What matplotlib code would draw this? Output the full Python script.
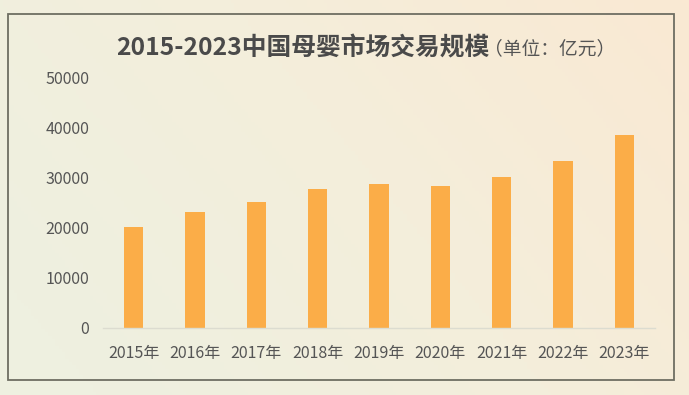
import numpy as np
import matplotlib
matplotlib.use("Agg")
import matplotlib.pyplot as plt
from matplotlib.colors import LinearSegmentedColormap
from matplotlib.patches import Rectangle

plt.rcParams['font.family'] = ['Noto Sans CJK SC', 'DejaVu Sans']

years = ["2015年", "2016年", "2017年", "2018年", "2019年", "2020年", "2021年", "2022年", "2023年"]
values = [20100, 23100, 25100, 27700, 28600, 28300, 30000, 33300, 38400]
yticks = [0, 10000, 20000, 30000, 40000, 50000]

W, H = 689, 395
fig = plt.figure(figsize=(W / 100, H / 100), dpi=100)

# background gradient
bg = fig.add_axes([0, 0, 1, 1])
bg.set_axis_off()
xx, yy = np.meshgrid(np.linspace(0, 1, 200), np.linspace(0, 1, 120))
t = np.clip(0.75 * xx + 0.35 * (1 - yy) - 0.1, 0, 1)
cmap = LinearSegmentedColormap.from_list("bg", ["#EEF0E0", "#F4EEDB", "#FAE9D3"])
bg.imshow(t, cmap=cmap, aspect="auto", extent=[0, 1, 0, 1], origin="upper", vmin=0, vmax=1)
bg.set_xlim(0, 1)
bg.set_ylim(0, 1)

# frame
fx0, fy0, fx1, fy1 = 8, 14, 674, 380
fig.add_artist(Rectangle((fx0 / W, 1 - fy1 / H), (fx1 - fx0) / W, (fy1 - fy0) / H,
                         transform=fig.transFigure, fill=False, edgecolor="#6E6E62", linewidth=1.3))

# main axes: x from 103 to 655 px, y0 at 328, 50000 at 77
ax_l, ax_r = 103, 655
y0px, y50px = 328, 77
ax = fig.add_axes([ax_l / W, 1 - y0px / H, (ax_r - ax_l) / W, (y0px - y50px) / H])
ax.patch.set_alpha(0)
x = np.arange(len(years))
ax.bar(x, values, width=0.32, color="#FBAD48", zorder=2)
ax.set_xlim(-0.5, len(years) - 0.5)
ax.set_ylim(0, 50000)
ax.set_yticks(yticks)
ax.set_yticklabels([str(v) for v in yticks])
ax.set_xticks(x)
ax.set_xticklabels(years)
for s in ["top", "right", "left"]:
    ax.spines[s].set_visible(False)
ax.spines["bottom"].set_color("#DCDCD0")
ax.spines["bottom"].set_linewidth(1.0)
ax.tick_params(axis="both", length=0, labelsize=11.5, colors="#555555")
ax.tick_params(axis="y", pad=10)
ax.tick_params(axis="x", pad=12)

# title
fig.text(116 / W, 1 - 48 / H, "2015-2023中国母婴市场交易规模", fontsize=17.8,
         fontweight="bold", color="#4A4A4A", ha="left", va="center")
fig.text(484 / W, 1 - 49 / H, "（单位：亿元）", fontsize=13.5, color="#555555",
         ha="left", va="center")

fig.savefig("out.png", dpi=100)
